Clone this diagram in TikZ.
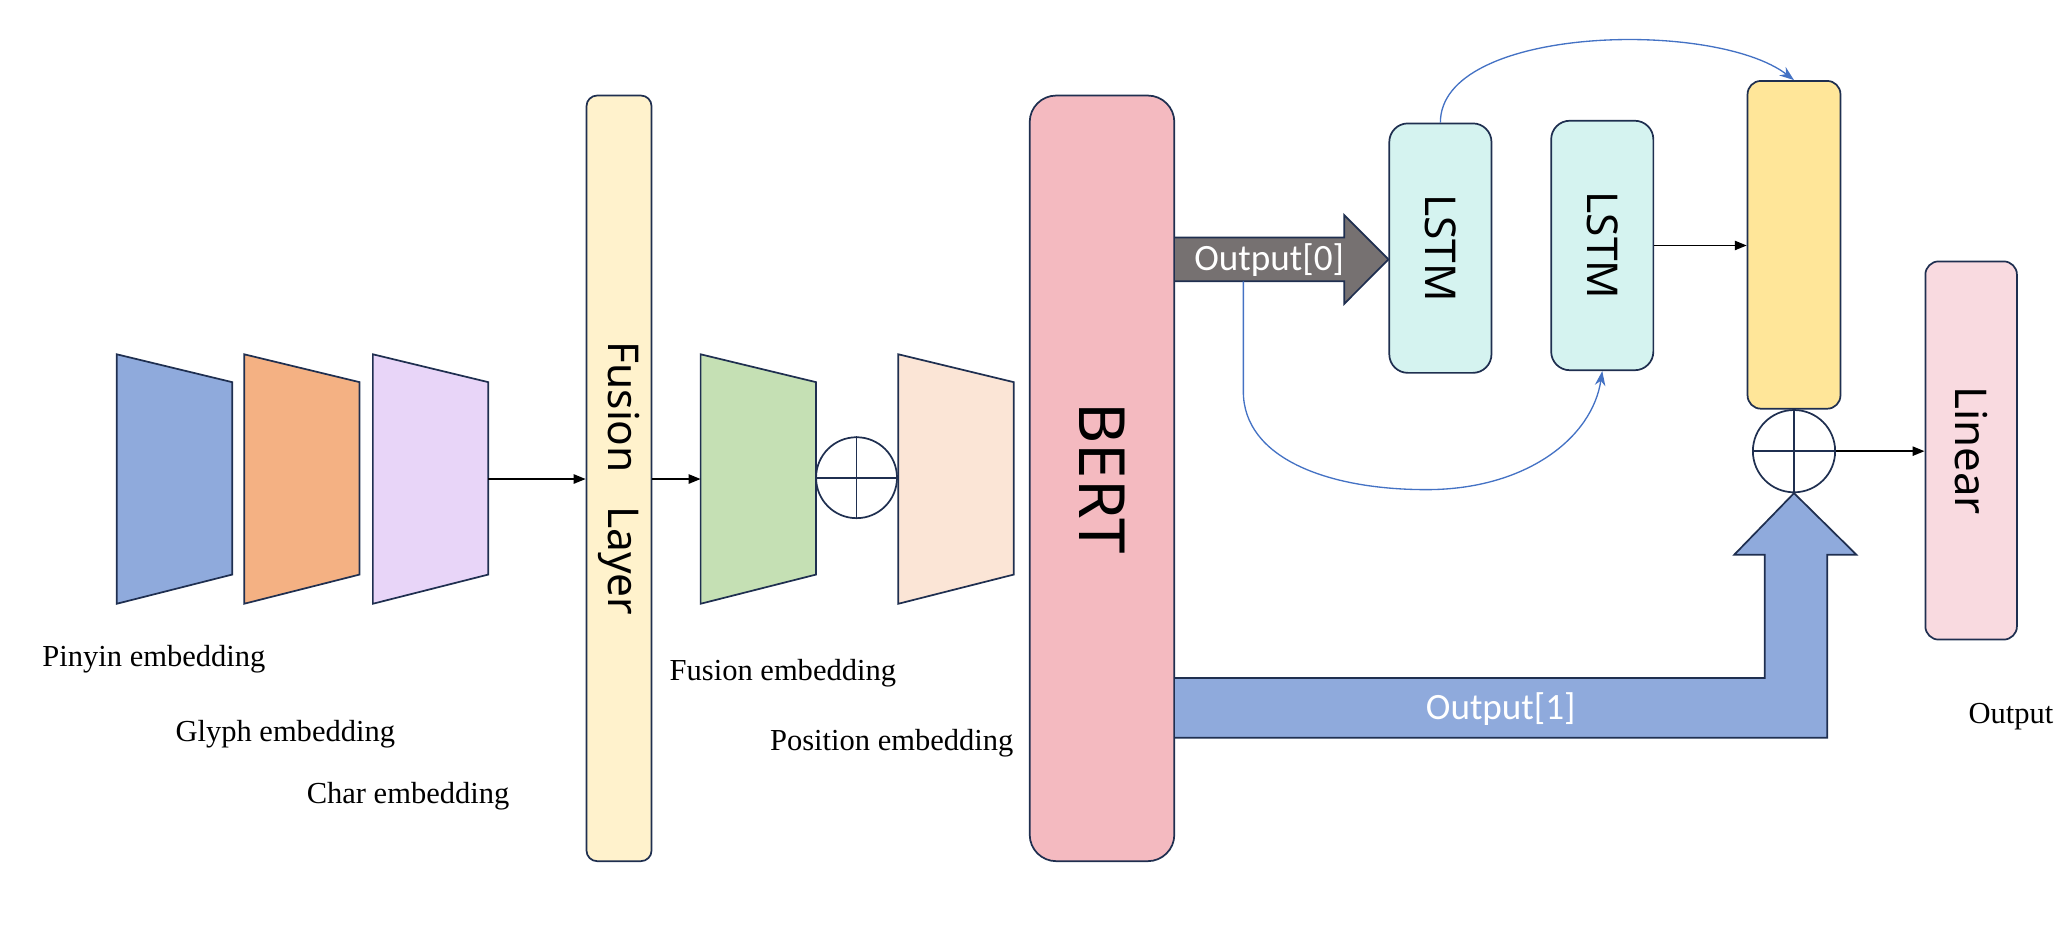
\documentclass[tikz,border=0pt]{standalone}
\usepackage{fontspec}
\setmainfont{Liberation Serif}
\newfontfamily\boxfont{Noto Sans}
\newfontfamily\tagfont{Carlito}
\usepackage{xcolor}
\definecolor{outline}{HTML}{1F2F50}
\definecolor{pinyin}{HTML}{8FAADC}
\definecolor{glyph}{HTML}{F4B183}
\definecolor{charc}{HTML}{E8D5F8}
\definecolor{fusionbg}{HTML}{FFF2CC}
\definecolor{fusemb}{HTML}{C5E0B4}
\definecolor{posemb}{HTML}{FBE5D6}
\definecolor{bertbg}{HTML}{F4BAC0}
\definecolor{lstmbg}{HTML}{D5F3F0}
\definecolor{poolbg}{HTML}{FFE699}
\definecolor{linearbg}{HTML}{F9DAE0}
\definecolor{grayarrow}{HTML}{767171}
\definecolor{curve}{HTML}{4472C4}
\usepackage{tikz}
\usetikzlibrary{arrows.meta,calc}

\tikzset{
  block/.style={draw=outline, line width=1.3pt, rounded corners=#1, inner sep=0pt},
  block/.default=10pt,
  addop/.style={circle, draw=outline, line width=1.3pt, inner sep=0pt},
  embtext/.style={font=\fontsize{23}{27}\selectfont, inner sep=0pt},
  flow/.style={-{Triangle[length=9pt,width=7pt]}, line width=1.2pt, black},
  feedback/.style={-{Stealth[length=11pt,width=8pt]}, line width=1pt, curve},
  fatarrow/.style={draw=outline, line width=1.3pt}
}

% trapezoid embedding block: name, left x, colour
\newcommand{\embtrap}[3]{%
  \draw[draw=outline, line width=1.3pt, fill=#3] (#2,267) -- (#2+87,288) -- (#2+87,433) -- (#2,455) -- cycle;
  \coordinate (#1w) at (#2,361);
  \coordinate (#1e) at (#2+87,361);}

\begin{document}
\begin{tikzpicture}[x=1pt, y=-1pt]
  \useasboundingbox (0,0) rectangle (1560,715);

  % input embeddings
  \embtrap{pin}{88}{pinyin}
  \embtrap{gly}{184}{glyph}
  \embtrap{chr}{281}{charc}
  \node[embtext] (pinlab) at (116,497) {Pinyin embedding};
  \node[embtext] (glylab) at (215,553) {Glyph embedding};
  \node[embtext] (chrlab) at (307.5,600) {Char embedding};

  % fusion layer
  \node[block=8pt, fill=fusionbg, minimum width=49pt, minimum height=577pt, font=\boxfont\fontsize{32}{38}\selectfont] (fusion) at (466.5,360.5) {\rotatebox{-90}{Fusion\hspace{25pt}Layer}};
  \draw[flow] (chre) -- (fusion.west |- chre);

  % fusion + position embedding
  \embtrap{fus}{528}{fusemb}
  \embtrap{pos}{677}{posemb}
  \draw[flow] (fusion.east |- fusw) -- (fusw);
  \node[addop, minimum size=61pt] (add1) at (645.5,360) {};
  \draw[outline, line width=1.3pt] (add1.north) -- (add1.south) (add1.west) -- (add1.east);
  \node[embtext] (fuslab) at (590,507) {Fusion embedding};
  \node[embtext] (poslab) at (672,560) {Position embedding};

  % encoder
  \node[block=20pt, fill=bertbg, minimum width=109pt, minimum height=577pt, font=\boxfont\fontsize{48}{56}\selectfont] (bert) at (830.5,360.5) {\rotatebox{-90}{BERT}};

  % lstm branch
  \node[block=14pt, fill=lstmbg, minimum width=77pt, minimum height=188pt, font=\boxfont\fontsize{32}{38}\selectfont] (lstma) at (1085.5,187) {\rotatebox{-90}{LSTM}};
  \node[block=14pt, fill=lstmbg, minimum width=77pt, minimum height=188pt, font=\boxfont\fontsize{32}{38}\selectfont] (lstmb) at (1207.5,185) {\rotatebox{-90}{LSTM}};
  \node[block=10pt, fill=poolbg, minimum width=70pt, minimum height=247pt] (pool) at (1352,184.5) {};
  \draw[flow] (lstmb.east) -- (lstmb.east -| pool.west);

  % output[0]
  \draw[fatarrow, fill=grayarrow] (bert.east |- 0,179) -- (1013,179) -- (1013,162) -- (lstma.west |- 0,195.5) -- (1013,229) -- (1013,212) -- (bert.east |- 0,212);
  \node[font=\tagfont\fontsize{28}{32}\selectfont, text=white, inner sep=0pt] (out0) at (956.5,196) {Output[0]};
  \coordinate (o0foot) at (937,212);
  \draw[feedback] (lstma.north) .. controls +(0,-73) and +(-60,-46) .. (pool.north);
  \draw[feedback] (o0foot) -- (937,295) .. controls (937,345) and (1000,369) .. (1075,369) .. controls (1150,369) and (1200,330) .. (lstmb.south);

  % output[1] and sum
  \node[addop, minimum size=62pt] (add2) at (1352,340) {};
  \draw[outline, line width=1.3pt] (add2.north) -- (add2.south) (add2.west) -- (add2.east);
  \draw[fatarrow, fill=pinyin] (bert.east |- 0,511) -- (1330,511) -- (1330,418) -- (1307,418) -- (add2.south) -- (1399,418) -- (1377,418) -- (1377,556) -- (bert.east |- 0,556);
  \node[font=\tagfont\fontsize{28}{32}\selectfont, text=white, inner sep=0pt] (out1) at (1131,534) {Output[1]};

  % classifier
  \node[block=10pt, fill=linearbg, minimum width=69pt, minimum height=285pt, font=\boxfont\fontsize{33}{40}\selectfont] (linear) at (1485.5,339.5) {\rotatebox{-90}{Linear}};
  \draw[flow] (add2.east) -- (add2.east -| linear.west);
  \node[embtext] (outlab) at (1515.5,540) {Output};
\end{tikzpicture}
\end{document}
